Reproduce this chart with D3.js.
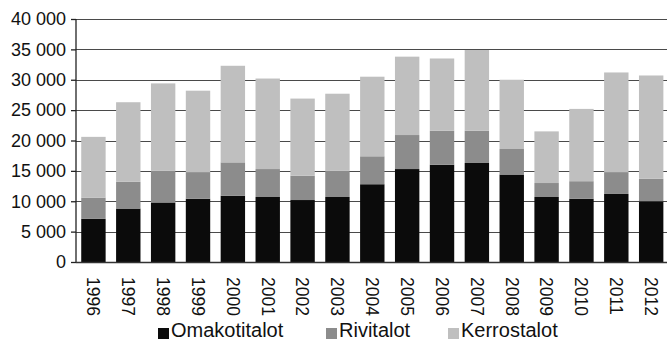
<!DOCTYPE html>
<html>
<head>
<meta charset="utf-8">
<script src="https://cdn.jsdelivr.net/npm/d3@7"></script>
<style>
  body { margin: 0; background: #fff; }
  svg { display: block; font-family: "Liberation Sans", Arial, sans-serif; }
  .tick text { fill: #111; }
</style>
</head>
<body>
<div id="graph"></div>
<script>
var years = [1996, 1997, 1998, 1999, 2000, 2001, 2002, 2003, 2004, 2005, 2006, 2007, 2008, 2009, 2010, 2011, 2012]
var omakotitalot = [7100, 8800, 9800, 10400, 10900, 10700, 10200, 10700, 12800, 15300, 16000, 16300, 14400, 10700, 10400, 11200, 10000]
var rivitalot = [3500, 4400, 5200, 4400, 5500, 4600, 4000, 4300, 4600, 5600, 5600, 5300, 4200, 2300, 2900, 3600, 3700]
var kerrostalot = [10000, 13100, 14400, 13400, 15900, 14900, 12700, 12700, 13100, 12900, 11900, 13300, 11400, 8500, 11900, 16400, 17000]
var seriesNames = ['Omakotitalot', 'Rivitalot', 'Kerrostalot']
var colors = ['#0b0b0b', '#8c8c8c', '#bfbfbf']
var yTicks = [0, 5000, 10000, 15000, 20000, 25000, 30000, 35000, 40000]

var W = 667, H = 341
var mLeft = 76, mTop = 19, mBottom = 262, mRight = 667

var rows = years.map(function(y, i){
  return {year: y, Omakotitalot: omakotitalot[i], Rivitalot: rivitalot[i], Kerrostalot: kerrostalot[i]}
})
var stacked = d3.stack().keys(seriesNames)(rows)

var svg = d3.select('#graph').append('svg').attr('width', W).attr('height', H)

var x = d3.scaleBand().domain(years).range([mLeft, 668.6]).paddingInner(0.3).paddingOuter(0.15)
var y = d3.scaleLinear().domain([0, 40000]).range([mBottom, mTop])

var fmt = function(d){ return d3.format(',')(d).replace(/,/g, ' ') }

// grid lines
svg.append('g').selectAll('line').data(yTicks).join('line')
  .attr('x1', mLeft).attr('x2', mRight)
  .attr('y1', function(d){ return Math.round(y(d)) + 0.5 })
  .attr('y2', function(d){ return Math.round(y(d)) + 0.5 })
  .attr('stroke', '#4a4a4a').attr('stroke-width', 1.2)

// bars
svg.append('g').selectAll('g').data(stacked).join('g')
  .attr('fill', function(d, i){ return colors[i] })
  .selectAll('rect').data(function(d){ return d }).join('rect')
  .attr('x', function(d){ return x(d.data.year) })
  .attr('width', x.bandwidth())
  .attr('y', function(d){ return y(d[1]) })
  .attr('height', function(d){ return y(d[0]) - y(d[1]) })

// y axis
var yAxis = d3.axisLeft(y).tickValues(yTicks).tickFormat(fmt).tickSize(5).tickPadding(5)
var yg = svg.append('g').attr('transform', 'translate(' + mLeft + ',0)').call(yAxis)
yg.selectAll('text').attr('font-size', 18).attr('font-family', '"Liberation Sans", Arial, sans-serif')
yg.selectAll('line, path').attr('stroke', '#222').attr('stroke-width', 1.3)
yg.select('.domain').attr('d', 'M0,' + mTop + 'V' + mBottom)

// x axis
svg.append('line').attr('x1', mLeft).attr('x2', mRight).attr('y1', mBottom + 0.5).attr('y2', mBottom + 0.5)
  .attr('stroke', '#333').attr('stroke-width', 1.3)

svg.append('g').selectAll('text').data(years).join('text')
  .attr('transform', function(d){ return 'translate(' + (x(d) + x.bandwidth() / 2) + ',' + (mBottom + 15) + ') rotate(90)' })
  .attr('dy', '0.35em')
  .attr('font-size', 17.5)
  .attr('fill', '#111')
  .text(function(d){ return d })

// legend
var legendX = [158, 326, 448]
var lg = svg.append('g').selectAll('g').data(seriesNames).join('g')
  .attr('transform', function(d, i){ return 'translate(' + legendX[i] + ',' + 337 + ')' })
lg.append('rect').attr('x', 0).attr('y', -9).attr('width', 11).attr('height', 11)
  .attr('fill', function(d, i){ return colors[i] })
lg.append('text').attr('x', 13).attr('y', 0).attr('font-size', 20).attr('fill', '#111')
  .text(function(d){ return d })
</script>
</body>
</html>
